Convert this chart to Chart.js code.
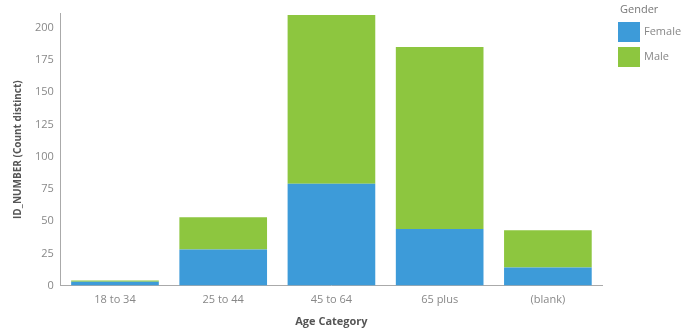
<!DOCTYPE html>
<html>
<head>
<meta charset="utf-8">
<script src="https://cdn.jsdelivr.net/npm/chart.js@4"></script>
<style>
  html, body { margin: 0; padding: 0; background: #fff; }
  #wrap { width: 681px; height: 330px; position: relative; }
</style>
</head>
<body>
<div id="wrap"><canvas id="chartCanvas"></canvas></div>
<script>
const categories = ["18 to 34", "25 to 44", "45 to 64", "65 plus", "(blank)"];
const female = [3, 28, 79, 44, 14];
const male = [1, 25, 131, 141, 29];
const yTicks = [0, 25, 50, 75, 100, 125, 150, 175, 200];

const blue = "#3d9bd9";
const green = "#8dc63f";
const tickColor = "#888";
const titleColor = "#555";
const fontFamily = "'Open Sans', 'DejaVu Sans', sans-serif";

// legend block on the right, top aligned, with a "Gender" heading
const sideLegend = {
    id: "sideLegend",
    afterDraw(chart) {
        const c = chart.ctx;
        const x = chart.chartArea.right + 16;
        let y = 4;
        c.save();
        c.font = "11px " + fontFamily;
        c.textBaseline = "middle";
        c.fillStyle = "#777";
        c.fillText("Gender", x + 2, y + 6);
        y += 18;
        chart.data.datasets.forEach(ds => {
            c.fillStyle = ds.backgroundColor;
            c.fillRect(x, y, 22, 20);
            c.fillStyle = "#888";
            c.fillText(ds.label, x + 26, y + 10);
            y += 25;
        });
        c.restore();
    }
};

const ctx = document.getElementById("chartCanvas").getContext("2d");

new Chart(ctx, {
    type: "bar",
    data: {
        labels: categories,
        datasets: [
            { label: "Female", data: female, backgroundColor: blue },
            { label: "Male", data: male, backgroundColor: green }
        ]
    },
    options: {
        responsive: true,
        maintainAspectRatio: false,
        animation: false,
        layout: { padding: { top: 11, left: 12, right: 79, bottom: 2 } },
        datasets: {
            bar: { categoryPercentage: 0.81, barPercentage: 1 }
        },
        plugins: {
            tooltip: { enabled: false },
            legend: { display: false }
        },
        scales: {
            x: {
                stacked: true,
                grid: { display: false, drawTicks: false },
                border: { color: "#aaa" },
                ticks: { color: tickColor, padding: 8, font: { family: fontFamily, size: 11 } },
                title: {
                    display: true,
                    text: "Age Category",
                    color: titleColor,
                    font: { family: fontFamily, size: 11, weight: "bold" },
                    padding: { top: 0, bottom: 0 }
                }
            },
            y: {
                stacked: true,
                min: 0,
                max: 211,
                grid: { display: false, drawTicks: false },
                border: { color: "#aaa" },
                afterBuildTicks: axis => {
                    axis.ticks = yTicks.map(v => ({ value: v }));
                },
                ticks: { color: tickColor, padding: 7, font: { family: fontFamily, size: 11 } },
                title: {
                    display: true,
                    text: "ID_NUMBER (Count distinct)",
                    color: titleColor,
                    font: { family: fontFamily, size: 10, weight: "bold" },
                    padding: { top: 0, bottom: 4 }
                }
            }
        }
    },
    plugins: [sideLegend]
});
</script>
</body>
</html>
